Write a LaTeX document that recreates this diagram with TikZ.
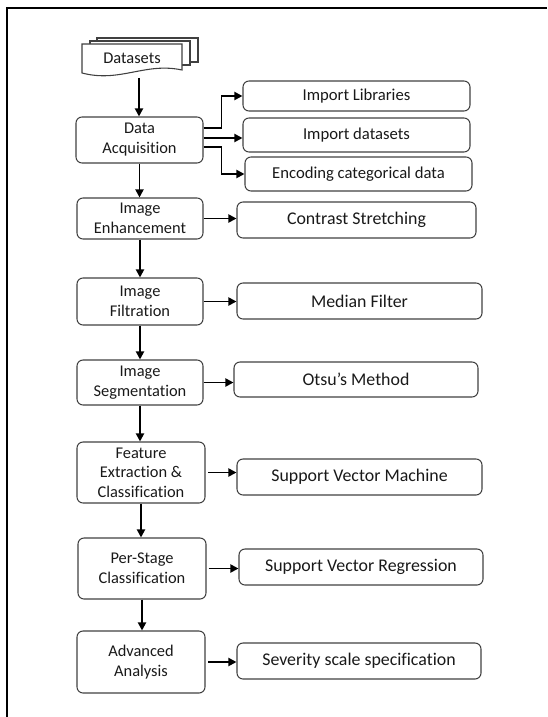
\documentclass[tikz,border=0pt]{standalone}
\usepackage{fontspec}
\setmainfont{Carlito}[Ligatures=NoCommon]
\usetikzlibrary{arrows.meta,calc}
\begin{document}
\begin{tikzpicture}[x=0.75pt,y=-0.75pt,
  box/.style={draw=black!75, line width=0.8pt, rounded corners=4.5pt, inner sep=0pt, align=center, text=black!90},
  span/.style n args={4}{at={({(#1+#3)/2},{(#2+#4)/2})}, minimum width={(#3-#1)*0.75pt}, minimum height={(#4-#2)*0.75pt}},
  lft/.style={box, font=\fontsize{12.3}{15}\selectfont},
  rgtA/.style={box, font=\fontsize{12.5}{15}\selectfont},
  rgt/.style={box, font=\fontsize{13.4}{16}\selectfont},
  arr/.style={line width=1.4pt, -{Triangle[length=6pt,width=6pt]}},
  sheet/.style={draw=black!75, line width=0.8pt, fill=white},
  ]
\useasboundingbox (0,0) rectangle (547,717);
\draw[line width=1.6pt] (7,717) -- (7,8) -- (547,8);

% Datasets multi-document
\draw[sheet] (97,44) -- (97,38) -- (198,38) -- (198,62) -- (190,62);
\draw[sheet] (90,44) -- (90,41) -- (190,41) -- (190,65) -- (182,65);
\draw[sheet] (82,44) -- (182,44) -- (182,70) .. controls (145,62) and (120,83) .. (82,73) -- cycle;
\node[font=\fontsize{12.3}{15}\selectfont, text=black!90] (dsl) at (132,58) {Datasets};
\coordinate (ds) at (139,78);

% left column
\node[lft, span={76}{117}{203}{163}] (da) {Data\\Acquisition};
\node[lft, span={77}{198}{203}{239}] (ie) {Image\\Enhancement};
\node[lft, span={77}{278}{203}{325}] (if) {Image\\Filtration};
\node[lft, span={77}{360}{203}{405}] (is) {Image\\Segmentation};
\node[lft, span={77}{442}{205}{503}, font=\fontsize{12.3}{14.6}\selectfont] (fe) {Feature\\Extraction \&\\Classification};
\node[lft, span={78}{538}{206}{599}] (ps) {Per-Stage\\Classification};
\node[lft, span={77}{631}{205}{693}] (aa) {Advanced\\Analysis};

% right column
\node[rgtA, span={243}{81}{470}{111}] (il) {Import Libraries};
\node[rgtA, span={243}{118}{470}{152}] (id) {Import datasets};
\node[rgtA, span={245}{157}{472}{191}] (ec) {Encoding categorical data};
\node[rgt, span={237}{202}{476}{238}] (cs) {Contrast Stretching};
\node[rgt, span={237}{283}{482}{319}] (mf) {Median Filter};
\node[rgt, span={234}{362}{478}{397}] (om) {Otsu’s Method};
\node[rgt, span={237}{459}{482}{495}] (svm) {Support Vector Machine};
\node[rgt, span={239}{549}{483}{585}] (svr) {Support Vector Regression};
\node[rgt, span={237}{643}{481}{679}] (ss) {Severity scale specification};

% vertical arrows
\draw[arr] (ds) -- (ds |- da.north);
\draw[arr] (da.south) -- (da.south |- ie.north);
\draw[arr] (ie.south) -- (ie.south |- if.north);
\draw[arr] (if.south) -- (if.south |- is.north);
\draw[arr] (is.south) -- (is.south |- fe.north);
\draw[arr] (fe.south) -- (fe.south |- ps.north);
\draw[arr] (ps.south) -- (ps.south |- aa.north);

% branch arrows
\draw[arr] ($(da.east)+(0,-12)$) -| ($(il.west)+(-21,0)$) -- (il.west);
\draw[arr] ($(da.east)+(0,-2)$) -- ($(id.west)+(0,3)$);
\draw[arr] ($(da.east)+(0,7)$) -| ($(ec.west)+(-23,0)$) -- (ec.west);

% horizontal arrows
\draw[arr] (ie.east) -- (ie.east -| cs.west);
\draw[arr] (if.east) -- (if.east -| mf.west);
\draw[arr] (is.east) -- (is.east -| om.west);
\draw[arr, shorten <=2.2pt] (fe.east) -- (fe.east -| svm.west);
\draw[arr, shorten <=1.5pt] (ps.east) -- (ps.east -| svr.west);
\draw[arr, shorten <=2.2pt] (aa.east) -- (aa.east -| ss.west);
\end{tikzpicture}
\end{document}
